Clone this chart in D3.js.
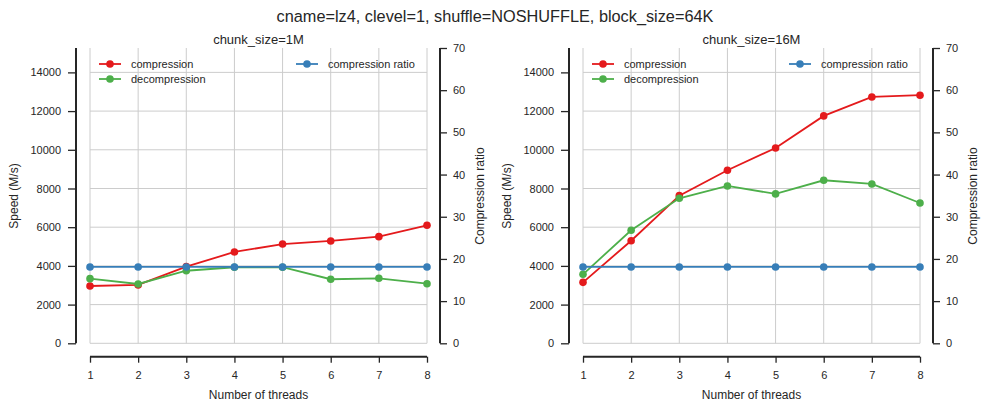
<!DOCTYPE html>
<html><head><meta charset="utf-8">
<script src="https://cdn.jsdelivr.net/npm/d3@7"></script>
<style>
body{margin:0;background:#fff;}
svg{font-family:"Liberation Sans",Arial,sans-serif;}
</style></head>
<body><svg id="c" width="990" height="412"></svg>
<script>
const threads = [1,2,3,4,5,6,7,8];
const comp1M = [2960,3015,3960,4720,5130,5290,5510,6100];
const decomp1M = [3340,3065,3750,3930,3930,3310,3360,3080];
const ratio1M = [18.1,18.1,18.1,18.1,18.1,18.1,18.1,18.1];
const comp16M = [3150,5300,7630,8940,10095,11750,12730,12820];
const decomp16M = [3565,5840,7495,8130,7720,8425,8235,7250];
const ratio16M = [18.1,18.1,18.1,18.1,18.1,18.1,18.1,18.1];
const speedTicks = [0,2000,4000,6000,8000,10000,12000,14000];
const ratioTicks = [0,10,20,30,40,50,60,70];
const panelTitles = ["chunk_size=1M","chunk_size=16M"];
const mainTitle = "cname=lz4, clevel=1, shuffle=NOSHUFFLE, block_size=64K";
const colors = {comp:"#e41a1c", decomp:"#4daf4a", ratio:"#377eb8"};

const svg = d3.select("#c");
const ink = "#262626";
svg.append("text").attr("x",495).attr("y",22).attr("text-anchor","middle")
  .attr("font-size",16.3).attr("fill",ink).text(mainTitle);

function panel(ox, title, comp, decomp, ratio){
  const x0 = 90+ox, x1 = 427+ox, yTop = 48, yBot = 343.3;
  const x = d3.scaleLinear().domain([1,8]).range([x0,x1]);
  const y = d3.scaleLinear().domain([0,15260]).range([yBot,yTop]);
  const y2 = d3.scaleLinear().domain([0,70]).range([yBot,yTop]);
  const g = svg.append("g");
  // grid
  g.append("g").selectAll("line").data(threads).join("line")
    .attr("x1",d=>x(d)).attr("x2",d=>x(d)).attr("y1",yTop).attr("y2",yBot)
    .attr("stroke","#cccccc").attr("stroke-width",1);
  g.append("g").selectAll("line").data(speedTicks).join("line")
    .attr("x1",x0).attr("x2",x1).attr("y1",d=>y(d)).attr("y2",d=>y(d))
    .attr("stroke","#cccccc").attr("stroke-width",1);
  const la = g.append("g").attr("transform",`translate(${ox+76},0)`)
    .call(d3.axisLeft(y).tickValues(speedTicks).tickFormat(d3.format("d")).tickSize(8).tickPadding(7).tickSizeOuter(0));
  const ra = g.append("g").attr("transform",`translate(${ox+440},0)`)
    .call(d3.axisRight(y2).tickValues(ratioTicks).tickFormat(d3.format("d")).tickSize(7).tickPadding(6).tickSizeOuter(0));
  const ba = g.append("g").attr("transform",`translate(0,356.7)`)
    .call(d3.axisBottom(x).tickValues(threads).tickFormat(d3.format("d")).tickSize(6).tickPadding(9).tickSizeOuter(0));
  [la,ra,ba].forEach(a=>{
    a.select(".domain").attr("stroke",ink).attr("stroke-width",2);
    a.selectAll(".tick line").attr("stroke",ink).attr("stroke-width",1.3);
    a.selectAll(".tick text").attr("fill",ink).attr("font-size",11).attr("font-family","Liberation Sans, Arial, sans-serif");
  });
  la.select(".domain").attr("d",`M0,${yTop}V${yBot}`);
  ra.select(".domain").attr("d",`M0,${yTop}V${yBot}`);
  ba.select(".domain").attr("d",`M${x0},0H${x1}`);
  g.append("text").attr("transform",`translate(${ox+18},196) rotate(-90)`).attr("text-anchor","middle")
    .attr("font-size",12).attr("fill",ink).text("Speed (M/s)");
  g.append("text").attr("transform",`translate(${ox+484},196) rotate(-90)`).attr("text-anchor","middle")
    .attr("font-size",12).attr("fill",ink).text("Compression ratio");
  g.append("text").attr("x",(x0+x1)/2).attr("y",399).attr("text-anchor","middle")
    .attr("font-size",12).attr("fill",ink).text("Number of threads");
  g.append("text").attr("x",(x0+x1)/2).attr("y",44).attr("text-anchor","middle")
    .attr("font-size",13).attr("fill",ink).text(title);
  function series(vals, sc, col){
    const pts = threads.map((t,i)=>[t,vals[i]]);
    g.append("path").datum(pts).attr("fill","none").attr("stroke",col).attr("stroke-width",1.8)
      .attr("d", d3.line().x(d=>x(d[0])).y(d=>sc(d[1])));
    g.append("g").selectAll("circle").data(pts).join("circle")
      .attr("cx",d=>x(d[0])).attr("cy",d=>sc(d[1])).attr("r",3.8).attr("fill",col);
  }
  series(comp, y, colors.comp);
  series(decomp, y, colors.decomp);
  series(ratio, y2, colors.ratio);
  function leg(lx, ly, label, col){
    g.append("line").attr("x1",lx).attr("x2",lx+22).attr("y1",ly).attr("y2",ly).attr("stroke",col).attr("stroke-width",1.8);
    g.append("circle").attr("cx",lx+11).attr("cy",ly).attr("r",3.8).attr("fill",col);
    g.append("text").attr("x",lx+32).attr("y",ly+4).attr("font-size",11).attr("fill",ink).text(label);
  }
  leg(ox+99, 64, "compression", colors.comp);
  leg(ox+99, 79, "decompression", colors.decomp);
  leg(ox+296, 64, "compression ratio", colors.ratio);
}
panel(0, panelTitles[0], comp1M, decomp1M, ratio1M);
panel(493, panelTitles[1], comp16M, decomp16M, ratio16M);
</script></body></html>
